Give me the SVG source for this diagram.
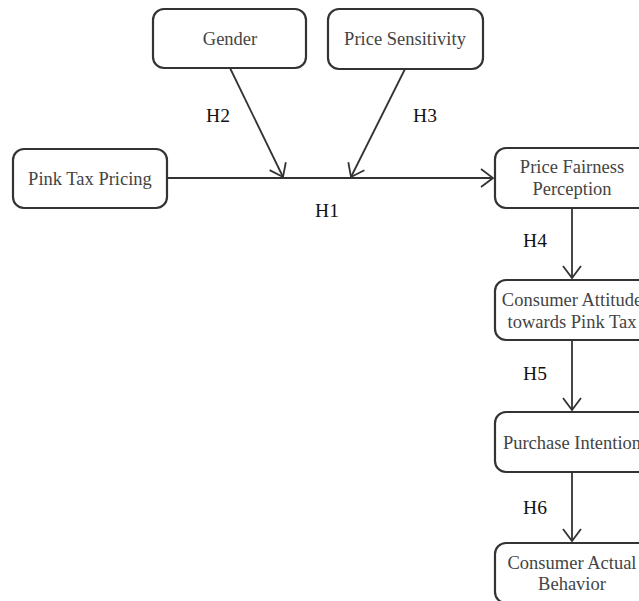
<svg xmlns="http://www.w3.org/2000/svg" width="639" height="601" viewBox="0 0 639 601">
<style>
.box{fill:#fff;stroke:#333;stroke-width:2.2}
.t{font-family:"Liberation Serif","Times New Roman",serif;font-size:18.5px;fill:#444;text-anchor:middle}
.l{font-family:"Liberation Serif","Times New Roman",serif;font-size:19.5px;fill:#111;text-anchor:middle}
.c{stroke:#333;stroke-width:1.8;fill:none}
</style>
<defs>
<marker id="arr" viewBox="0 0 14 20" refX="13" refY="10" markerWidth="14" markerHeight="20" markerUnits="userSpaceOnUse" orient="auto">
<path d="M1,1 L13,10 L1,19" fill="none" stroke="#333" stroke-width="1.8"/>
</marker>
</defs>
<rect width="639" height="601" fill="#fff"/>
<g id="connectors">
<line class="c" x1="167" y1="178" x2="493" y2="178" marker-end="url(#arr)"/>
<line class="c" x1="230" y1="68" x2="283" y2="177" marker-end="url(#arr)"/>
<line class="c" x1="405" y1="69" x2="351" y2="177" marker-end="url(#arr)"/>
<line class="c" x1="572" y1="208" x2="572" y2="278" marker-end="url(#arr)"/>
<line class="c" x1="572" y1="340" x2="572" y2="410" marker-end="url(#arr)"/>
<line class="c" x1="572" y1="472" x2="572" y2="541" marker-end="url(#arr)"/>
<text class="l" x="218" y="122">H2</text>
<text class="l" x="425" y="122">H3</text>
<text class="l" x="327" y="217">H1</text>
<text class="l" x="535" y="247">H4</text>
<text class="l" x="535" y="380">H5</text>
<text class="l" x="535" y="514">H6</text>
</g>
<g id="gender"><rect class="box" x="153" y="9" width="153" height="59" rx="11"/><text class="t" x="230" y="45">Gender</text></g>
<g id="price-sensitivity"><rect class="box" x="328" y="9" width="155" height="60" rx="11"/><text class="t" x="405" y="45">Price Sensitivity</text></g>
<g id="pink-tax-pricing"><rect class="box" x="13" y="149" width="154" height="59" rx="11"/><text class="t" x="90" y="185">Pink Tax Pricing</text></g>
<g id="price-fairness"><rect class="box" x="495" y="148" width="155" height="60" rx="11"/><text class="t" x="572" y="173">Price Fairness</text><text class="t" x="572" y="195">Perception</text></g>
<g id="consumer-attitude"><rect class="box" x="495" y="280" width="155" height="60" rx="11"/><text class="t" x="572" y="306">Consumer Attitude</text><text class="t" x="572" y="328">towards Pink Tax</text></g>
<g id="purchase-intention"><rect class="box" x="495" y="412" width="155" height="60" rx="11"/><text class="t" x="572" y="449">Purchase Intention</text></g>
<g id="consumer-behavior"><rect class="box" x="495" y="543" width="155" height="60" rx="11"/><text class="t" x="572" y="569">Consumer Actual</text><text class="t" x="572" y="590">Behavior</text></g>
</svg>
